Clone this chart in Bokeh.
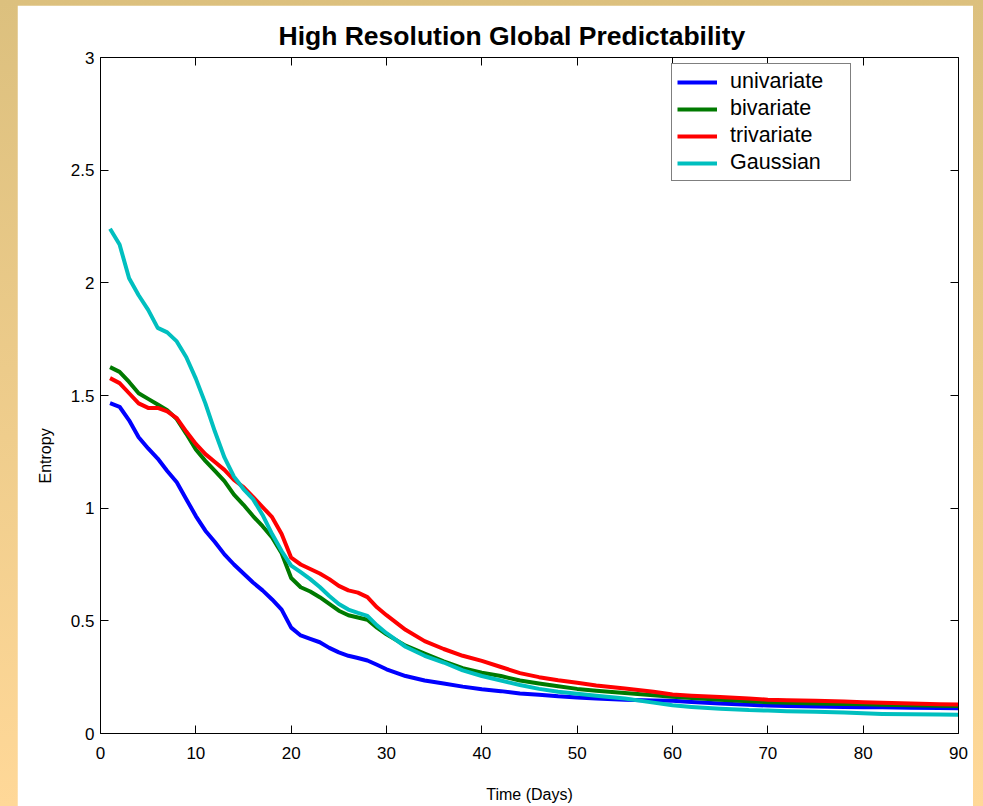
import math
from bokeh.plotting import figure
from bokeh.models import LinearAxis, Legend, LegendItem, Range1d, FixedTicker, Title
from bokeh.layouts import column
from bokeh.embed import file_html
from bokeh.resources import INLINE

days = [1, 2, 3, 4, 5, 6, 7, 8, 9, 10, 11, 12, 13, 14, 15, 16, 17, 18, 19, 20,
        21, 22, 23, 24, 25, 26, 27, 28, 29, 30, 32, 34, 36, 38, 40, 42, 44, 46, 48, 50,
        52, 55, 58, 60, 62, 65, 68, 70, 72, 75, 78, 80, 82, 85, 88, 90]

univariate = [1.466, 1.45, 1.39, 1.315, 1.265, 1.22, 1.165, 1.115, 1.04, 0.965,
              0.90, 0.85, 0.795, 0.75, 0.71, 0.67, 0.635, 0.595, 0.55, 0.47,
              0.435, 0.42, 0.405, 0.38, 0.36, 0.345, 0.335, 0.324, 0.305, 0.285,
              0.255, 0.235, 0.222, 0.208, 0.196, 0.188, 0.178, 0.172, 0.165, 0.16,
              0.155, 0.15, 0.147, 0.145, 0.14, 0.133, 0.128, 0.124, 0.122, 0.12,
              0.118, 0.117, 0.116, 0.114, 0.113, 0.112]

bivariate = [1.626, 1.605, 1.56, 1.51, 1.485, 1.46, 1.435, 1.395, 1.33, 1.26,
             1.21, 1.165, 1.12, 1.06, 1.015, 0.965, 0.92, 0.87, 0.80, 0.69,
             0.649, 0.63, 0.605, 0.575, 0.545, 0.525, 0.515, 0.505, 0.47, 0.44,
             0.39, 0.355, 0.32, 0.29, 0.27, 0.255, 0.235, 0.222, 0.21, 0.198,
             0.19, 0.18, 0.17, 0.163, 0.157, 0.15, 0.143, 0.139, 0.136, 0.133,
             0.131, 0.13, 0.128, 0.125, 0.123, 0.122]

trivariate = [1.577, 1.555, 1.51, 1.465, 1.445, 1.445, 1.43, 1.40, 1.34, 1.285,
              1.24, 1.205, 1.17, 1.125, 1.093, 1.05, 1.005, 0.96, 0.885, 0.78,
              0.75, 0.73, 0.71, 0.685, 0.655, 0.635, 0.625, 0.605, 0.56, 0.525,
              0.46, 0.41, 0.375, 0.345, 0.322, 0.295, 0.268, 0.25, 0.236, 0.225,
              0.213, 0.2, 0.185, 0.173, 0.168, 0.162, 0.155, 0.15, 0.148, 0.145,
              0.142, 0.139, 0.136, 0.133, 0.13, 0.129]

gaussian = [2.24, 2.17, 2.02, 1.945, 1.88, 1.80, 1.78, 1.74, 1.67, 1.575,
            1.465, 1.34, 1.225, 1.14, 1.085, 1.04, 0.97, 0.885, 0.81, 0.745,
            0.716, 0.685, 0.65, 0.61, 0.575, 0.55, 0.535, 0.522, 0.48, 0.445,
            0.385, 0.345, 0.315, 0.28, 0.255, 0.235, 0.215, 0.198, 0.185, 0.176,
            0.168, 0.155, 0.137, 0.125, 0.118, 0.11, 0.104, 0.102, 0.099, 0.097,
            0.093, 0.09, 0.087, 0.085, 0.084, 0.083]

series_names = ["univariate", "bivariate", "trivariate", "Gaussian"]
series_colors = ["#0000ff", "#007a00", "#ff0000", "#00bfbf"]
x_ticks = [0, 10, 20, 30, 40, 50, 60, 70, 80, 90]
y_ticks = [0, 0.5, 1, 1.5, 2, 2.5, 3]

FONT = "Liberation Sans"

p = figure(width=956, height=801, margin=(5, 10, 0, 17),
           output_backend="svg", toolbar_location=None,
           x_range=Range1d(0, 90), y_range=Range1d(0, 3),
           min_border_left=83, min_border_right=15,
           min_border_top=52, min_border_bottom=73,
           x_axis_location=None, y_axis_location=None)
p.background_fill_color = "white"
p.border_fill_color = "white"
p.outline_line_color = None
p.grid.visible = False

p.title.text = "High Resolution Global Predictability"
p.title.align = "left"
p.title.offset = 178
p.title.standoff = 14
p.title.text_font = FONT
p.title.text_font_size = "26.5px"
p.title.text_font_style = "bold"
p.title.text_color = "black"

xb = LinearAxis(ticker=FixedTicker(ticks=x_ticks))
xt = LinearAxis(ticker=FixedTicker(ticks=x_ticks))
yl = LinearAxis(ticker=FixedTicker(ticks=y_ticks))
yr = LinearAxis(ticker=FixedTicker(ticks=y_ticks))
for ax in (xb, xt, yl, yr):
    ax.axis_line_color = "black"
    ax.axis_line_width = 1
    ax.major_tick_line_color = "black"
    ax.major_tick_in = 8
    ax.major_tick_out = 0
    ax.minor_tick_line_color = None
    ax.major_label_text_font = FONT
    ax.major_label_text_font_size = "17px"
    ax.major_label_text_color = "black"
for ax in (xt, yr):
    ax.major_label_text_font_size = "0px"
    ax.major_label_text_alpha = 0
xb.major_label_standoff = 13
yl.major_label_standoff = 6
xb.axis_label = "Time (Days)"
xb.axis_label_text_font = FONT
xb.axis_label_text_font_size = "16px"
xb.axis_label_text_font_style = "normal"
xb.axis_label_text_color = "black"
xb.axis_label_standoff = 24
p.add_layout(xb, "below")
p.add_layout(xt, "above")
p.add_layout(yl, "left")
p.add_layout(yr, "right")

# y-axis title placed as a side title so it sits where the reference has it
ytitle = Title(text="Entropy", align="left", offset=250, standoff=26,
               vertical_align="middle",
               text_font=FONT, text_font_size="16px", text_font_style="normal",
               text_color="black")
p.add_layout(ytitle, "left")

data = [univariate, bivariate, trivariate, gaussian]
items = []
for name, color, ys in zip(series_names, series_colors, data):
    r = p.line(days, ys, line_color=color, line_width=4, line_join="round")
    items.append(LegendItem(label=name, renderers=[r]))

legend = Legend(items=items, location=(571, 552))
legend.border_line_color = "black"
legend.border_line_width = 1
legend.background_fill_color = "white"
legend.background_fill_alpha = 1
legend.label_text_font = FONT
legend.label_text_font_size = "21.5px"
legend.label_text_color = "black"
legend.glyph_width = 40
legend.glyph_height = 20
legend.label_height = 20
legend.label_width = 115
legend.spacing = 2
legend.padding = 5
legend.label_standoff = 13
legend.margin = 0
p.add_layout(legend, "center")

layout = column(p, width=983, height=806,
                styles={"background": "linear-gradient(to bottom, #dcc07e, #ffd898)"})

open("out.html", "w").write(file_html(layout, INLINE))
